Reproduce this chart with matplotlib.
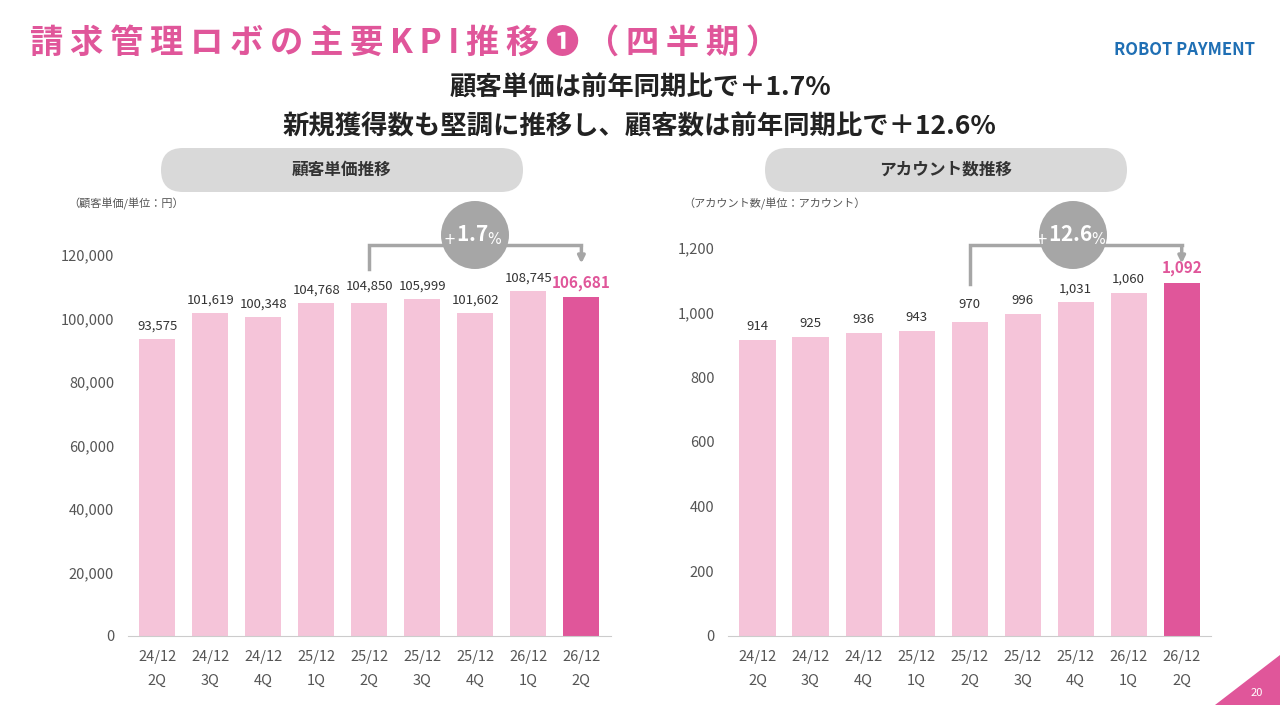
import matplotlib.pyplot as plt
from matplotlib.patches import FancyBboxPatch, Circle, Polygon

plt.rcParams['font.family'] = ['Noto Sans CJK JP', 'DejaVu Sans']

quarters = ['24/12\n2Q', '24/12\n3Q', '24/12\n4Q', '25/12\n1Q', '25/12\n2Q',
            '25/12\n3Q', '25/12\n4Q', '26/12\n1Q', '26/12\n2Q']
unit_price = [93575, 101619, 100348, 104768, 104850, 105999, 101602, 108745, 106681]
accounts = [914, 925, 936, 943, 970, 996, 1031, 1060, 1092]

pink = '#E0569A'
light = '#F5C4D9'
gray_txt = '#555555'

fig = plt.figure(figsize=(12.8, 7.2), dpi=100)

# pixel overlay for decorations
ov = fig.add_axes([0, 0, 1, 1], zorder=10)
ov.set_xlim(0, 1280)
ov.set_ylim(720, 0)
ov.axis('off')

title = '請求管理ロボの主要KPI推移❶（四半期）'
ov.text(30, 43, '\u2009'.join(title), fontsize=24, color=pink,
        fontweight='bold', va='center')
ov.text(1185, 50, 'ROBOT PAYMENT', fontsize=12, color='#1F6FB4',
        fontweight='bold', ha='center', va='center')
ov.text(640, 88, '顧客単価は前年同期比で＋1.7%', fontsize=19, fontweight='bold',
        ha='center', va='center', color='#222222')
ov.text(640, 127, '新規獲得数も堅調に推移し、顧客数は前年同期比で＋12.6%', fontsize=19,
        fontweight='bold', ha='center', va='center', color='#222222')

for cx, label in [(342, '顧客単価推移'), (946, 'アカウント数推移')]:
    ov.add_patch(FancyBboxPatch((cx - 181, 148), 362, 44,
                                boxstyle='round,pad=0,rounding_size=22',
                                fc='#D9D9D9', ec='none'))
    ov.text(cx, 170, label, fontsize=12, fontweight='bold', ha='center',
            va='center', color='#333333')

ov.text(68, 204, '（顧客単価/単位：円）', fontsize=8, color=gray_txt, va='center')
ov.text(683, 204, '（アカウント数/単位：アカウント）', fontsize=8, color=gray_txt, va='center')

panels = [
    (0.1, unit_price, 128000, 20000, 2000, 4, '+1.7%', 475),
    (0.569, accounts, 1256, 200, 22, 4, '+12.6%', 1073),
]
for left, vals, ytop, step, off, start, pct, ccx in panels:
    ax = fig.add_axes([left, 0.117, 0.377, 0.564])
    x = range(len(vals))
    colors = [light] * (len(vals) - 1) + [pink]
    ax.bar(x, vals, width=0.68, color=colors)
    ax.set_xlim(-0.55, 8.55)
    ax.set_ylim(0, ytop)
    ax.set_yticks(range(0, int(ytop) + 1, step))
    ax.set_yticklabels([f'{v:,}' for v in range(0, int(ytop) + 1, step)])
    ax.set_xticks(list(x))
    ax.set_xticklabels(quarters, linespacing=1.9)
    ax.tick_params(length=0, labelsize=10.5, colors=gray_txt, pad=10)
    for s in ['top', 'right', 'left']:
        ax.spines[s].set_visible(False)
    ax.spines['bottom'].set_color('#CCCCCC')
    for i, v in enumerate(vals):
        last = i == len(vals) - 1
        ax.text(i, v + off * (1.6 if i == start else 1), f'{v:,}', ha='center', va='bottom',
                fontsize=11 if last else 9.5, color=pink if last else '#333333',
                fontweight='bold' if last else 'normal')
    y_low = vals[start] + off * 5.3
    y_top = ytop * 0.963
    ax.plot([start, start, 8], [y_low, y_top, y_top], color='#A6A6A6', lw=2.5,
            solid_joinstyle='miter', clip_on=False)
    ax.annotate('', xy=(8, ytop * 0.91), xytext=(8, y_top),
                arrowprops=dict(arrowstyle='-|>', color='#A6A6A6', lw=2.5),
                annotation_clip=False)
    ov.add_patch(Circle((ccx, 235), 34, fc='#A6A6A6', ec='none'))
    num = pct[1:-1]
    ov.text(ccx - 2, 235, r'$_{+}$' + num + r'$_{\%}$', ha='center', va='center',
            fontsize=15, color='white', fontweight='bold')

ov.add_patch(Polygon([(1280, 655), (1280, 705), (1215, 705)], closed=True,
                     fc=pink, ec='none'))
ov.text(1257, 693, '20', fontsize=8, color='white', ha='center', va='center')

fig.savefig('out.png', dpi=100)
